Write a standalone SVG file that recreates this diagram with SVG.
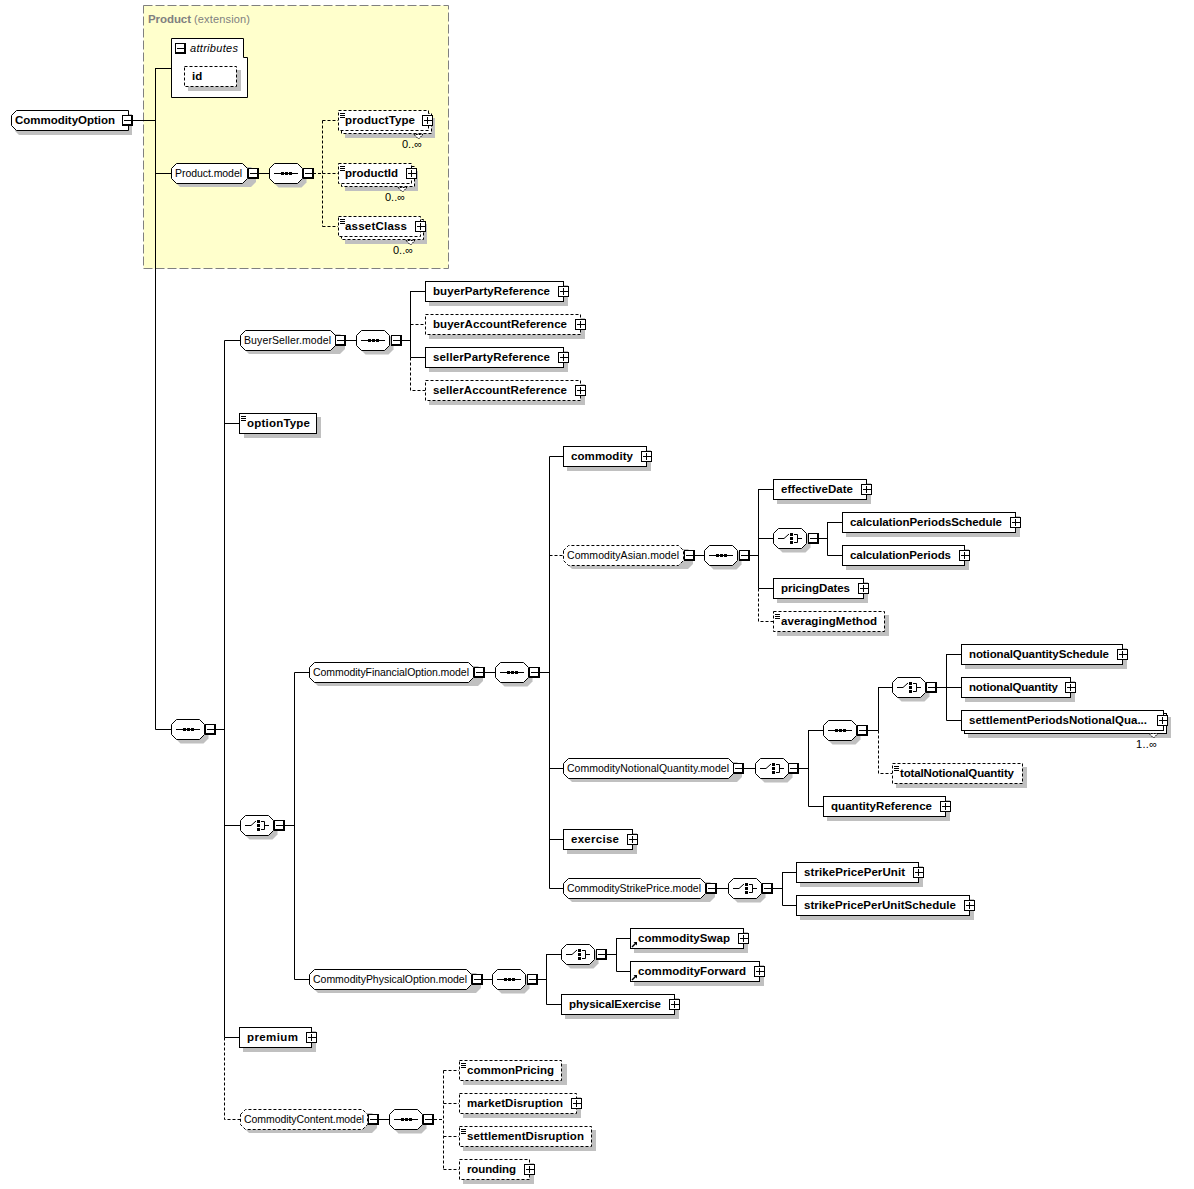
<svg xmlns="http://www.w3.org/2000/svg" width="1194" height="1189" viewBox="0 0 1194 1189">
<style>
text{font-family:"Liberation Sans",Arial,sans-serif;fill:#000}
.e{font-size:11.5px;font-weight:bold}
.m{font-size:10.5px}
.o{font-size:11px}
.b,.d,.p,.pd{fill:#fff;stroke:#000;stroke-width:1}
.d,.pd{stroke-dasharray:3 2}
.s{fill:#c0c0c0;stroke:none}
.c,.cd,.l{fill:none;stroke:#000;stroke-width:1}
.cd{stroke-dasharray:3 2}
.k{fill:#000;stroke:none}
</style>
<defs>
<g id="tm"><rect class="k" x="-5" y="-5" width="11" height="11"/><rect x="-4" y="-4" width="8" height="8" fill="#fff"/><path class="l" d="M-3 0.5H4"/></g>
<g id="tp"><rect class="k" x="-5" y="-5" width="11" height="11"/><rect x="-4" y="-4" width="9" height="9" fill="#fff"/><path class="l" d="M-3 0.5H5M0.5 -3V4"/></g>
<path id="oct" d="M0.500 -4.500L5.500 -9.500H28.500L33.500 -4.500V5.500L28.500 10.500H5.500L0.500 5.500Z"/>
<g id="seq"><use href="#oct" class="s" transform="translate(4,4)"/><use href="#oct" class="b"/><path class="l" d="M5 0.500H29"/><rect class="k" x="12" y="-1" width="3" height="3"/><rect class="k" x="16" y="-1" width="3" height="3"/><rect class="k" x="20" y="-1" width="3" height="3"/></g>
<g id="cho"><use href="#oct" class="s" transform="translate(4,4)"/><use href="#oct" class="b"/><path d="M5 0.500H11L16 -4" fill="none" stroke="#000"/><rect class="k" x="17" y="-5" width="3" height="3"/><rect class="k" x="17" y="-1" width="3" height="3"/><rect class="k" x="17" y="3" width="3" height="3"/><path class="l" d="M21 -3.500H24.500V4.500H21M24.500 0.500H29"/></g>
<path id="doc" class="l" d="M2 3.500H7M2 5.500H7M2 7.500H7"/>
<g id="ref"><path d="M2 7L6 3" stroke="#000" stroke-width="1.500" fill="none"/><path d="M3.500 2H7V5.500Z" fill="#000"/></g>
<path id="tri" d="M-4 0.500L0.500 5L5 0.500Z" fill="#fff" stroke="#000" stroke-dasharray="2 1"/>
</defs>

<g id="extension-panel">
<rect x="143.500" y="5.500" width="305" height="263" fill="#ffffcc" stroke="#808080" stroke-dasharray="9 3"/>
<text x="148" y="23" font-size="11.500" font-weight="bold" style="fill:#808080" textLength="43">Product</text>
<text x="194" y="23" font-size="11" style="fill:#808080" textLength="56">(extension)</text>
</g>

<g id="connectors">
<path class="c" d="M128 120.500H155.500M155.500 68V729.500M155.500 68.500H171M155.500 173.500H171M155.500 729.500H171"/>
<path class="c" d="M258 173.500H269"/>
<path class="cd" d="M313 173.500H322.500M322.500 120.500V226.500M322.500 120.500H338M322.500 173.500H338M322.500 226.500H338"/>
<path class="c" d="M215 729.500H224.500M224.500 340.500V1037.500M224.500 340.500H240M224.500 423.500H240M224.500 825.500H240M224.500 1037.500H239"/>
<path class="cd" d="M224.500 1037.500V1119.500H240"/>
<path class="c" d="M346 340.500H356M401 340.500H410.500M410.500 291V357.500M410.500 291.500H425M410.500 357.500H425"/>
<path class="cd" d="M410.500 324.500H425M410.500 357.500V390.500H425"/>
<path class="c" d="M284 825.500H294.500M294.500 672.500V979.500M294.500 672.500H309M294.500 979.500H309"/>
<path class="c" d="M484 672.500H495M539 672.500H549.500M549.500 456.500V888.500M549.500 456.500H563M549.500 768.500H563M549.500 839.500H563M549.500 888.500H563"/>
<path class="cd" d="M549.500 555.500H563"/>
<path class="c" d="M694 555.500H704M749 555.500H758.500M758.500 489V588.500M758.500 489.500H773M758.500 538.500H773M758.500 588.500H773M818 538.500H827.500M827.500 522V555.500M827.500 522.500H842M827.500 555.500H842"/>
<path class="cd" d="M758.500 588.500V621.500H773"/>
<path class="c" d="M743 768.500H755M799 768.500H808.500M808.500 730V806.500M808.500 730.500H823M808.500 806.500H823M868 730.500H878.500M878.500 687V730.500M878.500 687.500H892M937 687.500H946.500M946.500 654V720.500M946.500 654.500H961M946.500 687.500H961M946.500 720.500H961"/>
<path class="cd" d="M878.500 730.500V773.500H892"/>
<path class="c" d="M716 888.500H728M772 888.500H782.500M782.500 872V905.500M782.500 872.500H796M782.500 905.500H796"/>
<path class="c" d="M482 979.500H492M537 979.500H546.500M546.500 954V1004.500M546.500 954.500H561M546.500 1004.500H561M606 954.500H616.500M616.500 938V971.500M616.500 938.500H630M616.500 971.500H630"/>
<path class="c" d="M379 1119.500H389"/>
<path class="cd" d="M434 1119.500H443.500M443.500 1070.500V1169.500M443.500 1070.500H459M443.500 1103.500H459M443.500 1136.500H459M443.500 1169.500H459"/>
</g>

<g id="CommodityOption"><path class="s" d="M15 118L19 114H132V135H19L15 131Z"/><path class="b" d="M11.500 115.500L16.500 110.500H128.500V130.500H16.500L11.500 125.500Z"/><text class="e" x="15" y="124" textLength="100">CommodityOption</text><use href="#tm" x="127" y="120"/></g>

<g id="attributes"><path class="b" d="M171.500 38.500H243.500V57.500H247.500V97.500H171.500Z"/><use href="#tm" x="180" y="48"/><text x="190" y="52" font-size="11" font-style="italic" textLength="48">attributes</text>
<rect class="s" x="188" y="70" width="53" height="21"/><rect class="d" x="184.500" y="66.500" width="52" height="20"/><text class="e" x="192" y="80">id</text></g>

<g id="productType"><rect class="s" x="345" y="118" width="90" height="20"/><rect class="d" x="341.500" y="113.500" width="90" height="20"/><rect class="d" x="338.500" y="110.500" width="90" height="20"/><use href="#doc" x="338" y="110"/><text class="e" x="345" y="124" textLength="70">productType</text><use href="#tp" x="427" y="120"/><use href="#tri" x="418" y="134"/><text class="o" x="402" y="148" textLength="20">0..∞</text></g>
<g id="Product.model"><polygon class="s" points="175,172 180,167 251,167 256,172 256,182 251,187 180,187 175,182"/><polygon class="p" points="171.500,168.500 176.500,163.500 242.500,163.500 247.500,168.500 247.500,178.500 242.500,183.500 176.500,183.500 171.500,178.500"/><text class="m" x="175" y="177" textLength="67">Product.model</text><use href="#tm" x="253" y="173"/></g>
<g id="Product.model.seq"><use href="#seq" x="269" y="173"/><use href="#tm" x="308" y="173"/></g>
<g id="productId"><rect class="s" x="345" y="171" width="73" height="20"/><rect class="d" x="341.500" y="166.500" width="73" height="20"/><rect class="d" x="338.500" y="163.500" width="73" height="20"/><use href="#doc" x="338" y="163"/><text class="e" x="345" y="177" textLength="53">productId</text><use href="#tp" x="411" y="173"/><use href="#tri" x="402" y="187"/><text class="o" x="385" y="201" textLength="20">0..∞</text></g>
<g id="assetClass"><rect class="s" x="345" y="224" width="82" height="20"/><rect class="d" x="341.500" y="219.500" width="82" height="20"/><rect class="d" x="338.500" y="216.500" width="82" height="20"/><use href="#doc" x="338" y="216"/><text class="e" x="345" y="230" textLength="62">assetClass</text><use href="#tp" x="420" y="226"/><use href="#tri" x="410" y="240"/><text class="o" x="393" y="254" textLength="20">0..∞</text></g>

<g id="root.seq"><use href="#seq" x="171" y="729"/><use href="#tm" x="210" y="729"/></g>

<g id="BuyerSeller.model"><polygon class="s" points="244,339 249,334 340,334 345,339 345,349 340,354 249,354 244,349"/><polygon class="p" points="240.500,335.500 245.500,330.500 330.500,330.500 335.500,335.500 335.500,345.500 330.500,350.500 245.500,350.500 240.500,345.500"/><text class="m" x="244" y="344" textLength="87">BuyerSeller.model</text><use href="#tm" x="340" y="340"/></g>
<g id="BuyerSeller.model.seq"><use href="#seq" x="356" y="340"/><use href="#tm" x="396" y="340"/></g>
<g id="buyerPartyReference"><rect class="s" x="429" y="285" width="139" height="21"/><rect class="b" x="425.500" y="281.500" width="138" height="20"/><text class="e" x="433" y="295" textLength="117">buyerPartyReference</text><use href="#tp" x="563" y="291"/></g>
<g id="buyerAccountReference"><rect class="s" x="429" y="318" width="156" height="21"/><rect class="d" x="425.500" y="314.500" width="155" height="20"/><text class="e" x="433" y="328" textLength="134">buyerAccountReference</text><use href="#tp" x="580" y="324"/></g>
<g id="sellerPartyReference"><rect class="s" x="429" y="351" width="139" height="21"/><rect class="b" x="425.500" y="347.500" width="138" height="20"/><text class="e" x="433" y="361" textLength="117">sellerPartyReference</text><use href="#tp" x="563" y="357"/></g>
<g id="sellerAccountReference"><rect class="s" x="429" y="384" width="156" height="21"/><rect class="d" x="425.500" y="380.500" width="155" height="20"/><text class="e" x="433" y="394" textLength="134">sellerAccountReference</text><use href="#tp" x="580" y="390"/></g>

<g id="optionType"><rect class="s" x="244" y="417" width="77" height="21"/><rect class="b" x="239.500" y="413.500" width="77" height="20"/><use href="#doc" x="239" y="413"/><text class="e" x="247" y="427" textLength="63">optionType</text></g>

<g id="root.choice"><use href="#cho" x="240" y="825"/><use href="#tm" x="279" y="825"/></g>

<g id="CommodityFinancialOption.model"><polygon class="s" points="313,671 318,666 478,666 483,671 483,681 478,686 318,686 313,681"/><polygon class="p" points="309.500,667.500 314.500,662.500 468.500,662.500 473.500,667.500 473.500,677.500 468.500,682.500 314.500,682.500 309.500,677.500"/><text class="m" x="313" y="676" textLength="156">CommodityFinancialOption.model</text><use href="#tm" x="479" y="672"/></g>
<g id="CommodityFinancialOption.seq"><use href="#seq" x="495" y="672"/><use href="#tm" x="534" y="672"/></g>
<g id="commodity"><rect class="s" x="567" y="450" width="84" height="21"/><rect class="b" x="563.500" y="446.500" width="83" height="20"/><text class="e" x="571" y="460" textLength="62">commodity</text><use href="#tp" x="646" y="456"/></g>

<g id="CommodityAsian.model"><polygon class="s" points="567,554 572,549 688,549 693,554 693,564 688,569 572,569 567,564"/><polygon class="pd" points="563.500,550.500 568.500,545.500 678.500,545.500 683.500,550.500 683.500,560.500 678.500,565.500 568.500,565.500 563.500,560.500"/><text class="m" x="567" y="559" textLength="112">CommodityAsian.model</text><use href="#tm" x="689" y="555"/></g>
<g id="CommodityAsian.seq"><use href="#seq" x="704" y="555"/><use href="#tm" x="744" y="555"/></g>
<g id="effectiveDate"><rect class="s" x="777" y="483" width="94" height="21"/><rect class="b" x="773.500" y="479.500" width="93" height="20"/><text class="e" x="781" y="493" textLength="72">effectiveDate</text><use href="#tp" x="866" y="489"/></g>
<g id="CommodityAsian.choice"><use href="#cho" x="773" y="538"/><use href="#tm" x="813" y="538"/></g>
<g id="calculationPeriodsSchedule"><rect class="s" x="846" y="516" width="174" height="21"/><rect class="b" x="842.500" y="512.500" width="173" height="20"/><text class="e" x="850" y="526" textLength="152">calculationPeriodsSchedule</text><use href="#tp" x="1015" y="522"/></g>
<g id="calculationPeriods"><rect class="s" x="846" y="549" width="123" height="21"/><rect class="b" x="842.500" y="545.500" width="122" height="20"/><text class="e" x="850" y="559" textLength="101">calculationPeriods</text><use href="#tp" x="964" y="555"/></g>
<g id="pricingDates"><rect class="s" x="777" y="582" width="91" height="21"/><rect class="b" x="773.500" y="578.500" width="90" height="20"/><text class="e" x="781" y="592" textLength="69">pricingDates</text><use href="#tp" x="863" y="588"/></g>
<g id="averagingMethod"><rect class="s" x="777" y="615" width="112" height="21"/><rect class="d" x="773.500" y="611.500" width="111" height="20"/><use href="#doc" x="773" y="611"/><text class="e" x="781" y="625" textLength="96">averagingMethod</text></g>

<g id="CommodityNotionalQuantity.model"><polygon class="s" points="567,767 572,762 737,762 742,767 742,777 737,782 572,782 567,777"/><polygon class="p" points="563.500,763.500 568.500,758.500 728.500,758.500 733.500,763.500 733.500,773.500 728.500,778.500 568.500,778.500 563.500,773.500"/><text class="m" x="567" y="772" textLength="162">CommodityNotionalQuantity.model</text><use href="#tm" x="738" y="768"/></g>
<g id="CommodityNotionalQuantity.choice"><use href="#cho" x="755" y="768"/><use href="#tm" x="793" y="768"/></g>
<g id="CommodityNotionalQuantity.seq"><use href="#seq" x="823" y="730"/><use href="#tm" x="862" y="730"/></g>
<g id="quantity.choice"><use href="#cho" x="892" y="687"/><use href="#tm" x="931" y="687"/></g>
<g id="notionalQuantitySchedule"><rect class="s" x="965" y="648" width="162" height="21"/><rect class="b" x="961.500" y="644.500" width="161" height="20"/><text class="e" x="969" y="658" textLength="140">notionalQuantitySchedule</text><use href="#tp" x="1122" y="654"/></g>
<g id="notionalQuantity"><rect class="s" x="965" y="681" width="110" height="21"/><rect class="b" x="961.500" y="677.500" width="109" height="20"/><text class="e" x="969" y="691" textLength="89">notionalQuantity</text><use href="#tp" x="1070" y="687"/></g>
<g id="settlementPeriodsNotionalQuantity"><rect class="s" x="968" y="717" width="203" height="21"/><rect class="b" x="964.500" y="713.500" width="202" height="20"/><rect class="b" x="961.500" y="710.500" width="202" height="20"/><text class="e" x="969" y="724" textLength="178">settlementPeriodsNotionalQua...</text><use href="#tp" x="1162" y="720"/><use href="#tri" x="1153" y="733"/><text class="o" x="1136" y="748" textLength="21">1..∞</text></g>
<g id="totalNotionalQuantity"><rect class="s" x="896" y="767" width="131" height="21"/><rect class="d" x="892.500" y="763.500" width="130" height="20"/><use href="#doc" x="892" y="763"/><text class="e" x="900" y="777" textLength="114">totalNotionalQuantity</text></g>
<g id="quantityReference"><rect class="s" x="827" y="800" width="123" height="21"/><rect class="b" x="823.500" y="796.500" width="122" height="20"/><text class="e" x="831" y="810" textLength="101">quantityReference</text><use href="#tp" x="945" y="806"/></g>

<g id="exercise"><rect class="s" x="567" y="833" width="70" height="21"/><rect class="b" x="563.500" y="829.500" width="69" height="20"/><text class="e" x="571" y="843" textLength="48">exercise</text><use href="#tp" x="632" y="839"/></g>

<g id="CommodityStrikePrice.model"><polygon class="s" points="567,887 572,882 710,882 715,887 715,897 710,902 572,902 567,897"/><polygon class="p" points="563.500,883.500 568.500,878.500 700.500,878.500 705.500,883.500 705.500,893.500 700.500,898.500 568.500,898.500 563.500,893.500"/><text class="m" x="567" y="892" textLength="134">CommodityStrikePrice.model</text><use href="#tm" x="711" y="888"/></g>
<g id="CommodityStrikePrice.choice"><use href="#cho" x="728" y="888"/><use href="#tm" x="767" y="888"/></g>
<g id="strikePricePerUnit"><rect class="s" x="800" y="866" width="123" height="21"/><rect class="b" x="796.500" y="862.500" width="122" height="20"/><text class="e" x="804" y="876" textLength="101">strikePricePerUnit</text><use href="#tp" x="918" y="872"/></g>
<g id="strikePricePerUnitSchedule"><rect class="s" x="800" y="899" width="174" height="21"/><rect class="b" x="796.500" y="895.500" width="173" height="20"/><text class="e" x="804" y="909" textLength="152">strikePricePerUnitSchedule</text><use href="#tp" x="969" y="905"/></g>

<g id="CommodityPhysicalOption.model"><polygon class="s" points="313,978 318,973 476,973 481,978 481,988 476,993 318,993 313,988"/><polygon class="p" points="309.500,974.500 314.500,969.500 466.500,969.500 471.500,974.500 471.500,984.500 466.500,989.500 314.500,989.500 309.500,984.500"/><text class="m" x="313" y="983" textLength="154">CommodityPhysicalOption.model</text><use href="#tm" x="477" y="979"/></g>
<g id="CommodityPhysicalOption.seq"><use href="#seq" x="492" y="979"/><use href="#tm" x="532" y="979"/></g>
<g id="CommodityPhysicalOption.choice"><use href="#cho" x="561" y="954"/><use href="#tm" x="601" y="954"/></g>
<g id="commoditySwap"><rect class="s" x="634" y="932" width="114" height="21"/><rect class="b" x="630.500" y="928.500" width="113" height="20"/><use href="#ref" x="630" y="940"/><text class="e" x="638" y="942" textLength="92">commoditySwap</text><use href="#tp" x="743" y="938"/></g>
<g id="commodityForward"><rect class="s" x="634" y="965" width="130" height="21"/><rect class="b" x="630.500" y="961.500" width="129" height="20"/><use href="#ref" x="630" y="973"/><text class="e" x="638" y="975" textLength="108">commodityForward</text><use href="#tp" x="759" y="971"/></g>
<g id="physicalExercise"><rect class="s" x="565" y="998" width="114" height="21"/><rect class="b" x="561.500" y="994.500" width="113" height="20"/><text class="e" x="569" y="1008" textLength="92">physicalExercise</text><use href="#tp" x="674" y="1004"/></g>

<g id="premium"><rect class="s" x="243" y="1031" width="73" height="21"/><rect class="b" x="239.500" y="1027.500" width="72" height="20"/><text class="e" x="247" y="1041" textLength="51">premium</text><use href="#tp" x="311" y="1037"/></g>

<g id="CommodityContent.model"><polygon class="s" points="244,1118 249,1113 372,1113 377,1118 377,1128 372,1133 249,1133 244,1128"/><polygon class="pd" points="240.500,1114.500 245.500,1109.500 362.500,1109.500 367.500,1114.500 367.500,1124.500 362.500,1129.500 245.500,1129.500 240.500,1124.500"/><text class="m" x="244" y="1123" textLength="120">CommodityContent.model</text><use href="#tm" x="373" y="1119"/></g>
<g id="CommodityContent.seq"><use href="#seq" x="389" y="1119"/><use href="#tm" x="428" y="1119"/></g>
<g id="commonPricing"><rect class="s" x="463" y="1064" width="104" height="21"/><rect class="d" x="459.500" y="1060.500" width="102" height="20"/><use href="#doc" x="459" y="1060"/><text class="e" x="467" y="1074" textLength="87">commonPricing</text></g>
<g id="marketDisruption"><rect class="s" x="463" y="1097" width="118" height="21"/><rect class="d" x="459.500" y="1093.500" width="117" height="20"/><text class="e" x="467" y="1107" textLength="96">marketDisruption</text><use href="#tp" x="576" y="1103"/></g>
<g id="settlementDisruption"><rect class="s" x="463" y="1130" width="133" height="21"/><rect class="d" x="459.500" y="1126.500" width="132" height="20"/><use href="#doc" x="459" y="1126"/><text class="e" x="467" y="1140" textLength="117">settlementDisruption</text></g>
<g id="rounding"><rect class="s" x="463" y="1163" width="71" height="21"/><rect class="d" x="459.500" y="1159.500" width="70" height="20"/><text class="e" x="467" y="1173" textLength="49">rounding</text><use href="#tp" x="529" y="1169"/></g>
</svg>
